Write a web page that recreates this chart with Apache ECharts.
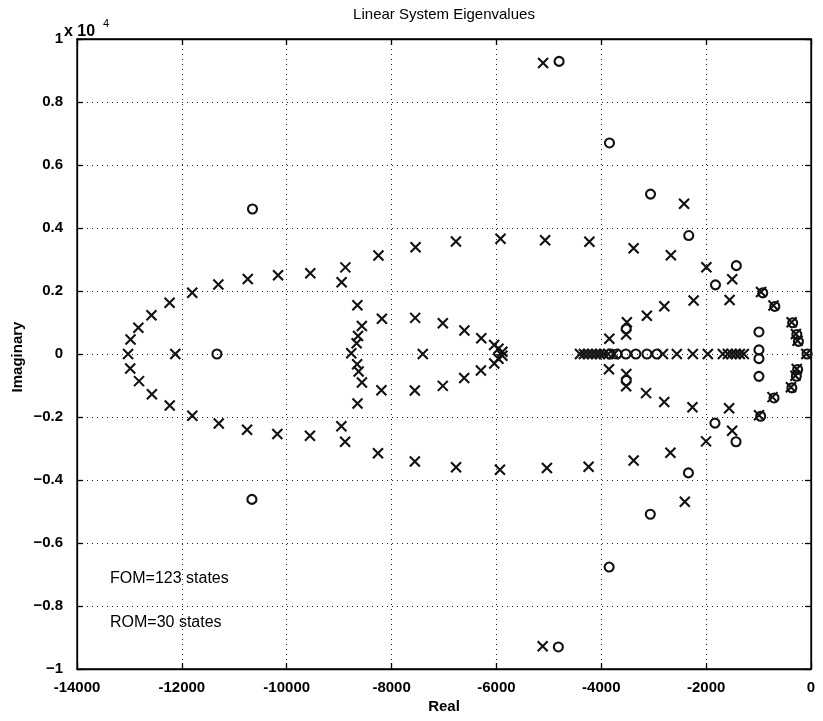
<!DOCTYPE html>
<html><head><meta charset="utf-8">
<script src="https://cdn.jsdelivr.net/npm/echarts@6/dist/echarts.min.js"></script>
<style>html,body{margin:0;padding:0;background:#fff}#c{width:823px;height:721px}</style>
</head><body><div id="c"></div>
<script>
// ---- axis definitions ----
const xMin = -14000, xMax = 0, xStep = 2000;
const yMin = -10000, yMax = 10000, yStep = 2000;
const xTickLabels = ['-14000','-12000','-10000','-8000','-6000','-4000','-2000','0'];
const yTickLabels = ['\u22121','\u22120.8','\u22120.6','\u22120.4','\u22120.2','0','0.2','0.4','0.6','0.8','1'];

// ---- FOM eigenvalues (x markers) ----
const fomRe = [
  -12979,-12830,-12580,-12234,-11802,-11304,-10743,-10165,-9550,-8881,-8953,-8250,-7543,-6772,-5922,-5071,-4227,-3383,-2673,-1996,-1503,-1553,-2239,-2798,-3130,-3512,-3525,-3847,-2421,
  -13026,-12125,-12985,-12817,-12572,-12231,-11801,-11296,-10756,-10179,-9557,-8958,-8886,-8259,-7556,-6770,-5933,-5037,-4242,-3383,-2682,-2002,-1504,-1562,-2261,-2799,-3146,-3523,-3526,-3854,-2407,
  -8652,-8184,-7550,-7023,-6611,-6289,-6043,-5962,-5886,-5886,-5962,-8567,-8640,-8666,-8769,-7405,-8657,-8628,-8565,-8194,-7557,-7023,-6615,-6296,-6041,-8650,
  -5110,-5118,
  -4406,-4330,-4254,-4178,-4102,-4026,-3950,-3869,-3755,-2825,-2559,-2254,-1968,-1682,-1587,-1511,-1435,-1358,-1282,
  -953,-716,-369,-289,-257,-90,-272,-298,-383,-735,-992
];
const fomIm = [
  463,832,1230,1624,1946,2210,2381,2497,2565,2750,2275,3129,3392,3569,3658,3611,3563,3357,3132,2751,2370,1714,1695,1514,1216,1010,619,486,4769,
  0,0,-458,-861,-1279,-1634,-1960,-2204,-2404,-2542,-2595,-2297,-2788,-3149,-3416,-3598,-3677,-3620,-3581,-3384,-3133,-2774,-2434,-1725,-1690,-1521,-1242,-632,-1022,-486,-4694,
  1549,1118,1147,979,749,499,285,166,69,-58,-152,890,574,342,27,0,-324,-557,-907,-1149,-1161,-1012,-765,-527,-299,-1573,
  9241,-9281,
  0,0,0,0,0,0,0,0,0,0,0,0,0,0,0,0,0,0,0,
  1969,1540,1006,633,420,0,-478,-691,-1058,-1369,-1948
];

// ---- ROM eigenvalues (o markers) ----
const romRe = [
  -4805,-4819,-3844,-3850,-3061,-3065,-2332,-2338,-1424,-1430,-1822,-1832,
  -10653,-10664,-11331,
  -993,-993,-993,-993,-3525,-3524,
  -3836,-3703,-3531,-3341,-3130,-2940,
  -920,-690,-350,-270,-240,-75,-255,-280,-365,-705,-960
];
const romIm = [
  9289,-9300,6700,-6764,5076,-5086,3760,-3775,2804,-2785,2195,-2196,
  4602,-4616,0,
  700,130,-148,-710,797,-841,
  0,0,0,0,0,0,
  1940,1510,990,620,400,0,-490,-705,-1075,-1395,-1975
];

const fomLabel = 'FOM=123 states';
const romLabel = 'ROM=30 states';

const chart = echarts.init(document.getElementById('c'), null, {renderer: 'canvas'});
const font = '"Liberation Sans", Arial, sans-serif';
const dotted = {color: '#222', width: 1, type: [1, 4]};

function xAxisCfg(pos, main) {
  return {
    type: 'value', min: xMin, max: xMax, interval: xStep, position: pos,
    axisLine: {show: true, onZero: false, lineStyle: {color: '#000', width: 1.3}},
    axisTick: {show: true, inside: true, length: 6, lineStyle: {color: '#000', width: 1.3}},
    axisLabel: {show: main, color: '#000', fontSize: 15, fontWeight: 'bold', fontFamily: font, margin: 11,
      formatter: v => xTickLabels[Math.round((v - xMin) / xStep)]},
    splitLine: {show: main, lineStyle: dotted}
  };
}
function yAxisCfg(pos, main) {
  return {
    type: 'value', min: yMin, max: yMax, interval: yStep, position: pos,
    axisLine: {show: true, onZero: false, lineStyle: {color: '#000', width: 1.3}},
    axisTick: {show: true, inside: true, length: 6, lineStyle: {color: '#000', width: 1.3}},
    axisLabel: {show: main, color: '#000', fontSize: 15, fontWeight: 'bold', fontFamily: font, margin: 14,
      formatter: v => yTickLabels[Math.round((v - yMin) / yStep)]},
    splitLine: {show: main, lineStyle: dotted}
  };
}

chart.setOption({
  animation: false,
  backgroundColor: '#fff',
  grid: {left: 77, right: 12, top: 39, bottom: 52, show: true, borderColor: '#000', borderWidth: 1.3,
         containLabel: false, outerBoundsMode: 'none'},
  xAxis: [xAxisCfg('bottom', true), xAxisCfg('top', false)],
  yAxis: [yAxisCfg('left', true), yAxisCfg('right', false)],
  series: [
    {
      type: 'scatter', silent: true, xAxisIndex: 0, yAxisIndex: 0,
      symbol: 'path://M0,0L10,10M10,0L0,10', symbolSize: 10,
      itemStyle: {color: 'rgba(0,0,0,0)', borderColor: '#111', borderWidth: 2.1, opacity: 1},
      data: fomRe.map((r, i) => [r, fomIm[i]])
    },
    {
      type: 'scatter', silent: true, xAxisIndex: 0, yAxisIndex: 0,
      symbol: 'circle', symbolSize: 9,
      itemStyle: {color: 'rgba(0,0,0,0)', borderColor: '#111', borderWidth: 2.1, opacity: 1},
      data: romRe.map((r, i) => [r, romIm[i]])
    }
  ],
  graphic: [
    {type: 'text', x: 444, y: 15, silent: true,
     style: {text: 'Linear System Eigenvalues', font: '15px ' + font, fill: '#000',
             align: 'center', textAlign: 'center', verticalAlign: 'middle', textVerticalAlign: 'middle'}},
    {type: 'text', x: 444, y: 707, silent: true,
     style: {text: 'Real', font: 'bold 15px ' + font, fill: '#000',
             align: 'center', textAlign: 'center', verticalAlign: 'middle', textVerticalAlign: 'middle'}},
    {type: 'text', x: 18, y: 357, rotation: Math.PI / 2, silent: true,
     style: {text: 'Imaginary', font: 'bold 15px ' + font, fill: '#000',
             align: 'center', textAlign: 'center', verticalAlign: 'middle', textVerticalAlign: 'middle'}},
    {type: 'text', x: 64, y: 32, silent: true,
     style: {text: 'x 10', font: 'bold 16px ' + font, fill: '#000',
             align: 'left', textAlign: 'left', verticalAlign: 'middle', textVerticalAlign: 'middle'}},
    {type: 'text', x: 103, y: 24, silent: true,
     style: {text: '4', font: '11px ' + font, fill: '#000',
             align: 'left', textAlign: 'left', verticalAlign: 'middle', textVerticalAlign: 'middle'}},
    {type: 'text', x: 110, y: 579, silent: true,
     style: {text: fomLabel, font: '16px ' + font, fill: '#000',
             align: 'left', textAlign: 'left', verticalAlign: 'middle', textVerticalAlign: 'middle'}},
    {type: 'text', x: 110, y: 623, silent: true,
     style: {text: romLabel, font: '16px ' + font, fill: '#000',
             align: 'left', textAlign: 'left', verticalAlign: 'middle', textVerticalAlign: 'middle'}}
  ]
});
</script>
</body></html>
